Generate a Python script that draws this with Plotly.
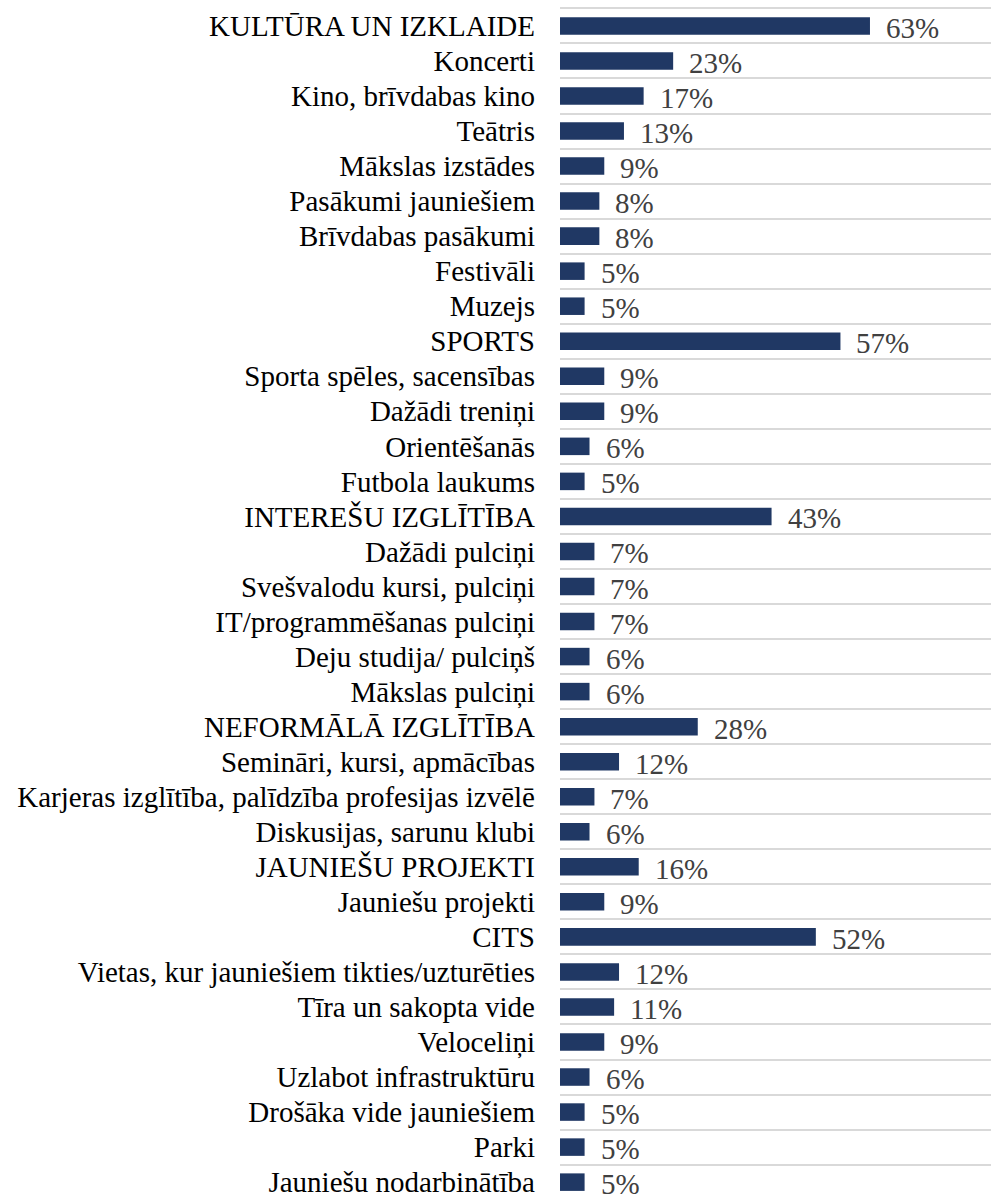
import plotly.graph_objects as go

categories = [
    "KULTŪRA UN IZKLAIDE", "Koncerti", "Kino, brīvdabas kino", "Teātris",
    "Mākslas izstādes", "Pasākumi jauniešiem", "Brīvdabas pasākumi", "Festivāli",
    "Muzejs", "SPORTS", "Sporta spēles, sacensības", "Dažādi treniņi",
    "Orientēšanās", "Futbola laukums", "INTEREŠU IZGLĪTĪBA", "Dažādi pulciņi",
    "Svešvalodu kursi, pulciņi", "IT/programmēšanas pulciņi", "Deju studija/ pulciņš",
    "Mākslas pulciņi", "NEFORMĀLĀ IZGLĪTĪBA", "Semināri, kursi, apmācības",
    "Karjeras izglītība, palīdzība profesijas izvēlē", "Diskusijas, sarunu klubi",
    "JAUNIEŠU PROJEKTI", "Jauniešu projekti", "CITS",
    "Vietas, kur jauniešiem tikties/uzturēties", "Tīra un sakopta vide",
    "Veloceliņi", "Uzlabot infrastruktūru", "Drošāka vide jauniešiem", "Parki",
    "Jauniešu nodarbinātība",
]
values = [63, 23, 17, 13, 9, 8, 8, 5, 5, 57, 9, 9, 6, 5, 43, 7, 7, 7, 6, 6,
          28, 12, 7, 6, 16, 9, 52, 12, 11, 9, 6, 5, 5, 5]
value_labels = [f"{v}%" for v in values]

FONT = "Liberation Serif, Times New Roman, serif"

fig = go.Figure()
fig.add_trace(go.Bar(
    x=values, y=categories, orientation="h",
    marker=dict(color="#203864", line=dict(width=0)),
    width=0.5, hoverinfo="skip",
))

for c, v, t in zip(categories, values, value_labels):
    fig.add_annotation(
        x=v, y=c, text=t, showarrow=False, xanchor="left", yanchor="middle",
        xshift=14, yshift=-2, font=dict(family=FONT, size=29, color="#404040"),
    )

n = len(categories)
fig.update_layout(
    width=991, height=1198,
    margin=dict(l=560, r=0, t=6, b=0),
    paper_bgcolor="white", plot_bgcolor="white",
    showlegend=False, bargap=0.5,
    font=dict(family=FONT, size=29, color="black"),
)
fig.update_xaxes(range=[0, 87.6], visible=False, showgrid=False, zeroline=False)
fig.update_yaxes(
    type="category", range=[n - 0.69, -0.568],
    tickson="boundaries", showgrid=True, gridcolor="#d9d9d9", gridwidth=1.5,
    ticks="", ticklabelstandoff=24, showline=False, zeroline=False,
    tickfont=dict(family=FONT, size=29, color="black"),
)

fig.write_html(
    "out.html",
    config={"displayModeBar": False},
    post_script="document.body.style.margin='0';document.body.style.overflow='hidden';",
)
